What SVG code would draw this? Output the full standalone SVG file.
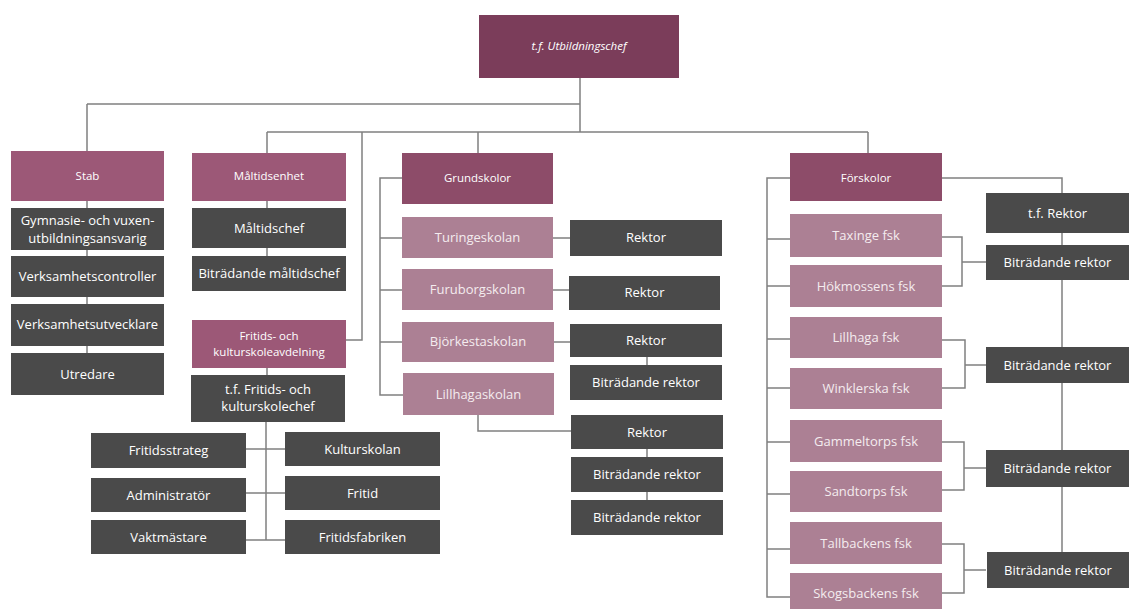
<svg xmlns="http://www.w3.org/2000/svg" width="1133" height="609" viewBox="0 0 1133 609">
<style>
.top{fill:#7b3d5a}
.hd{fill:#9c5877}
.hd2{fill:#8d4c69}
.lt{fill:#ac8094}
.dk{fill:#4a4a4a}
text{font-family:"Open Sans","Noto Sans",sans-serif;fill:#ffffff;text-anchor:middle;font-size:13px}
.s{font-size:11.5px}
.lt+text{fill:#f4ecef}
#conn path{fill:none;stroke:#808080;stroke-width:1.5}
</style>
<rect width="1133" height="609" fill="#ffffff"/>
<g id="conn">
<path d="M580 78V132M87 104H580M87 104V151M267 132H868M267 132V153M478 132V153M868 132V153M362 132V340H346"/>
<path d="M87 201V353"/>
<path d="M267 201V256M267 368V375"/>
<path d="M266 422V540M246 449H285M246 493H285M246 540H285"/>
<path d="M402 178H380V395H403M380 238H402M380 290H402M380 342H402"/>
<path d="M553 238H570M553 290H569M554 342H570M647 357V365"/>
<path d="M478 415V431H571M647 449V500"/>
<path d="M942 178H1062V552"/>
<path d="M790 178H767V597H790M767 239H790M767 286H790M767 339H790M767 388H790M767 442H790M767 494H790M767 549H790"/>
<path d="M942 237H962V286H942M962 262H986"/>
<path d="M942 340H965V388H942M965 365H986"/>
<path d="M942 442H964V490H942M964 468H986"/>
<path d="M942 544H964V593H942M964 570H986"/>
</g>
<g id="n-top"><rect class="top" x="479" y="15" width="200" height="63"/><text x="579" y="50" font-style="italic" class="s">t.f. Utbildningschef</text></g>
<g id="n-stab"><rect class="hd" x="11" y="151" width="153" height="50"/><text x="87.5" y="180" class="s">Stab</text></g>
<g id="n-gymn"><rect class="dk" x="11" y="208" width="153" height="42"/><text x="87.5" y="225">Gymnasie- och vuxen-</text><text x="87.5" y="243">utbildningsansvarig</text></g>
<g id="n-vc"><rect class="dk" x="11" y="256" width="153" height="41"/><text x="87.5" y="281">Verksamhetscontroller</text></g>
<g id="n-vu"><rect class="dk" x="11" y="304" width="153" height="42"/><text x="87.5" y="329">Verksamhetsutvecklare</text></g>
<g id="n-utr"><rect class="dk" x="11" y="353" width="153" height="42"/><text x="87.5" y="379">Utredare</text></g>
<g id="n-malt"><rect class="hd" x="192" y="153" width="154" height="48"/><text x="269" y="180" class="s">Måltidsenhet</text></g>
<g id="n-maltchef"><rect class="dk" x="192" y="208" width="154" height="40"/><text x="269" y="233">Måltidschef</text></g>
<g id="n-bitrmalt"><rect class="dk" x="192" y="256" width="154" height="35"/><text x="269" y="278">Biträdande måltidschef</text></g>
<g id="n-fritavd"><rect class="hd" x="192" y="320" width="154" height="48"/><text x="269" y="340" class="s">Fritids- och</text><text x="269" y="356" class="s">kulturskoleavdelning</text></g>
<g id="n-fritchef"><rect class="dk" x="191" y="375" width="154" height="47"/><text x="268" y="394">t.f. Fritids- och</text><text x="268" y="411">kulturskolechef</text></g>
<g id="n-fstrat"><rect class="dk" x="91" y="433" width="155" height="35"/><text x="168.5" y="455">Fritidsstrateg</text></g>
<g id="n-adm"><rect class="dk" x="91" y="478" width="155" height="34"/><text x="168.5" y="500">Administratör</text></g>
<g id="n-vakt"><rect class="dk" x="91" y="520" width="155" height="34"/><text x="168.5" y="542">Vaktmästare</text></g>
<g id="n-kult"><rect class="dk" x="285" y="432" width="155" height="34"/><text x="362.5" y="454">Kulturskolan</text></g>
<g id="n-frit"><rect class="dk" x="285" y="476" width="155" height="34"/><text x="362.5" y="498">Fritid</text></g>
<g id="n-ffab"><rect class="dk" x="285" y="520" width="155" height="34"/><text x="362.5" y="542">Fritidsfabriken</text></g>
<g id="n-grund"><rect class="hd2" x="402" y="153" width="151" height="51"/><text x="477.5" y="182" class="s">Grundskolor</text></g>
<g id="n-tur"><rect class="lt" x="402" y="217" width="151" height="41"/><text x="477.5" y="242">Turingeskolan</text></g>
<g id="n-fur"><rect class="lt" x="402" y="269" width="151" height="41"/><text x="477.5" y="294">Furuborgskolan</text></g>
<g id="n-bjo"><rect class="lt" x="402" y="322" width="152" height="40"/><text x="478" y="346">Björkestaskolan</text></g>
<g id="n-lil"><rect class="lt" x="403" y="373" width="151" height="42"/><text x="478.5" y="399">Lillhagaskolan</text></g>
<g id="n-rtur"><rect class="dk" x="570" y="220" width="152" height="36"/><text x="646" y="242">Rektor</text></g>
<g id="n-rfur"><rect class="dk" x="569" y="276" width="151" height="34"/><text x="644.5" y="297">Rektor</text></g>
<g id="n-rbjo"><rect class="dk" x="570" y="324" width="152" height="33"/><text x="646" y="345">Rektor</text></g>
<g id="n-bbjo"><rect class="dk" x="570" y="365" width="152" height="35"/><text x="646" y="387">Biträdande rektor</text></g>
<g id="n-rlil"><rect class="dk" x="571" y="415" width="152" height="34"/><text x="647" y="437">Rektor</text></g>
<g id="n-blil1"><rect class="dk" x="571" y="457" width="152" height="35"/><text x="647" y="479">Biträdande rektor</text></g>
<g id="n-blil2"><rect class="dk" x="571" y="500" width="152" height="35"/><text x="647" y="522">Biträdande rektor</text></g>
<g id="n-fors"><rect class="hd2" x="790" y="153" width="152" height="48"/><text x="866" y="182" class="s">Förskolor</text></g>
<g id="n-tax"><rect class="lt" x="790" y="214" width="152" height="43"/><text x="866" y="240">Taxinge fsk</text></g>
<g id="n-hok"><rect class="lt" x="790" y="265" width="152" height="42"/><text x="866" y="291">Hökmossens fsk</text></g>
<g id="n-lfsk"><rect class="lt" x="790" y="317" width="152" height="41"/><text x="866" y="342">Lillhaga fsk</text></g>
<g id="n-win"><rect class="lt" x="790" y="368" width="152" height="41"/><text x="866" y="393">Winklerska fsk</text></g>
<g id="n-gam"><rect class="lt" x="790" y="420" width="152" height="42"/><text x="866" y="446">Gammeltorps fsk</text></g>
<g id="n-san"><rect class="lt" x="790" y="471" width="152" height="41"/><text x="866" y="496">Sandtorps fsk</text></g>
<g id="n-tal"><rect class="lt" x="790" y="522" width="152" height="42"/><text x="866" y="548">Tallbackens fsk</text></g>
<g id="n-sko"><rect class="lt" x="790" y="573" width="152" height="36"/><text x="866" y="598">Skogsbackens fsk</text></g>
<g id="n-tfr"><rect class="dk" x="986" y="193" width="143" height="40"/><text x="1057.5" y="218">t.f. Rektor</text></g>
<g id="n-b1"><rect class="dk" x="986" y="245" width="143" height="35"/><text x="1057.5" y="267">Biträdande rektor</text></g>
<g id="n-b2"><rect class="dk" x="986" y="347" width="143" height="36"/><text x="1057.5" y="370">Biträdande rektor</text></g>
<g id="n-b3"><rect class="dk" x="986" y="450" width="143" height="37"/><text x="1057.5" y="473">Biträdande rektor</text></g>
<g id="n-b4"><rect class="dk" x="987" y="552" width="142" height="36"/><text x="1058" y="575">Biträdande rektor</text></g>
</svg>
